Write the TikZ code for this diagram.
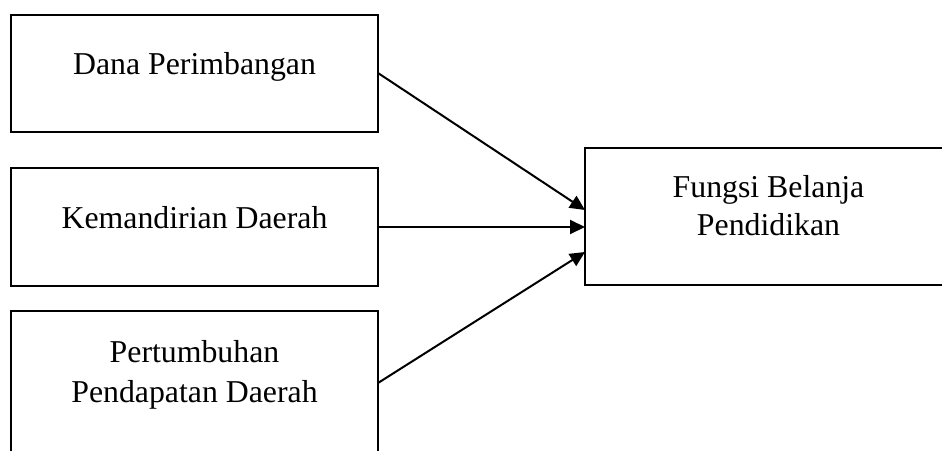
\documentclass[tikz,border=0pt]{standalone}
\usepackage{fontspec}
\setmainfont{Liberation Serif}
\usetikzlibrary{arrows.meta,calc}
\begin{document}
\begin{tikzpicture}[x=1pt,y=-1pt,
  box/.style={draw=black,line width=2pt,inner sep=0pt,outer sep=0pt,rectangle},
  txt/.style={anchor=base,inner sep=0pt,font=\fontsize{31.8}{40}\selectfont},
  arr/.style={draw=black,line width=2pt,-{Triangle[length=15pt,width=14pt]}}]
\useasboundingbox (0,0) rectangle (942,450);
\clip (0,0) rectangle (942,450);
\node[box,minimum width=367pt,minimum height=117pt] (b1) at (194.5,73.5) {};
\node[box,minimum width=367pt,minimum height=118pt] (b2) at (194.5,227) {};
\node[box,minimum width=367pt,minimum height=169pt] (b3) at (194.5,395.5) {};
\node[box,minimum width=367pt,minimum height=137pt] (fb) at (768.5,216.5) {};
\node[txt] (t1) at (194.5,74) {Dana Perimbangan};
\node[txt] (t2) at (194.5,228) {Kemandirian Daerah};
\node[txt] (t3a) at (194.5,362) {Pertumbuhan};
\node[txt] (t3b) at (194.5,402) {Pendapatan Daerah};
\node[txt] (t4a) at (768.5,197) {Fungsi Belanja};
\node[txt] (t4b) at (768.5,235) {Pendidikan};
\draw[arr] ($(b1.east)+(0,-0.5)$) -- ($(fb.west)+(0,-6.5)$);
\draw[arr] (b2.east) -- ($(fb.west)+(0,10.5)$);
\draw[arr] ($(b3.east)+(0,-12.5)$) -- ($(fb.west)+(0,35.5)$);
\end{tikzpicture}
\end{document}
